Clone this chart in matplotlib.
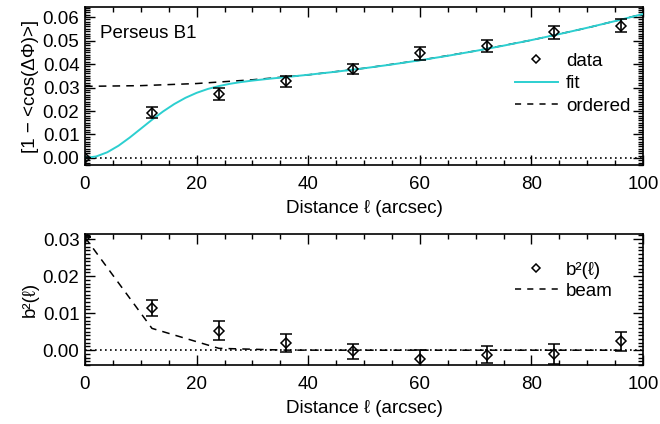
import matplotlib
matplotlib.use("Agg")
import matplotlib.pyplot as plt
from matplotlib.ticker import MultipleLocator, FormatStrFormatter
from matplotlib.lines import Line2D

# ---- data ----
dist = [0, 12, 24, 36, 48, 60, 72, 84, 96]
disp = [0.0000, 0.0193, 0.0271, 0.0326, 0.0379, 0.0445, 0.0478, 0.0535, 0.0563]
disp_err = [0.0000, 0.0022, 0.0026, 0.0024, 0.0022, 0.0026, 0.0025, 0.0028, 0.0028]

fit_x = [0, 2, 4, 6, 8, 10, 12, 14, 16, 18, 20, 22, 24, 26, 28, 30, 33, 36,
         40, 45, 50, 55, 60, 65, 70, 75, 80, 85, 90, 95, 100]
fit_y = [0.0, 0.00063, 0.00243, 0.0052, 0.00866, 0.01245, 0.01626, 0.01982,
         0.02297, 0.02561, 0.02773, 0.02938, 0.03063, 0.0316, 0.03234, 0.03295,
         0.03373, 0.03445, 0.03543, 0.03674, 0.0382, 0.03982, 0.04159, 0.04351,
         0.04559, 0.04783, 0.05021, 0.05275, 0.05545, 0.0583, 0.0613]

ord_x = [0, 10, 20, 30, 40, 50, 60, 70, 80, 90, 100]
ord_y = [0.0305, 0.0308, 0.0317, 0.0333, 0.0354, 0.0382, 0.0416, 0.0456,
         0.0502, 0.0554, 0.0613]

b2 = [0.0305, 0.0114, 0.0053, 0.0019, -0.0003, -0.0025, -0.0012, -0.0010, 0.0024]
b2_err = [0.0000, 0.0022, 0.0026, 0.0025, 0.0020, 0.0025, 0.0023, 0.0028, 0.0026]

beam_x = [0, 12, 24, 36, 48, 60, 72, 84, 96]
beam_y = [0.0305, 0.0059, 0.0005, 0.00002, 0.0, 0.0, 0.0, 0.0, 0.0]

plt.rcParams['font.family'] = ['Liberation Sans', 'DejaVu Sans']
plt.rcParams['font.size'] = 13

W, H = 660, 424
fig = plt.figure(figsize=(6.6, 4.24), dpi=100)
ax1 = fig.add_axes([85 / W, 1 - 165 / H, 558 / W, 158 / H])
ax2 = fig.add_axes([85 / W, 1 - 365 / H, 558 / W, 131 / H])

FS = 13.5

def style(ax):
    ax.set_xlim(0, 100)
    ax.xaxis.set_major_locator(MultipleLocator(20))
    ax.xaxis.set_minor_locator(MultipleLocator(5))
    ax.yaxis.set_minor_locator(MultipleLocator(0.001))
    ax.yaxis.set_major_locator(MultipleLocator(0.01))
    ax.yaxis.set_major_formatter(FormatStrFormatter('%.2f'))
    ax.tick_params(which='both', direction='in', top=True, right=True,
                   labelsize=FS, colors='black', width=1.0)
    ax.tick_params(which='major', length=7)
    ax.tick_params(axis='y', which='major', pad=4)
    ax.tick_params(axis='x', which='major', pad=8)
    ax.tick_params(which='minor', length=3.5)
    for s in ax.spines.values():
        s.set_linewidth(1.2)
    ax.set_xlabel('Distance ℓ (arcsec)', fontsize=FS, labelpad=5)

# ---- top panel ----
style(ax1)
ax1.set_ylim(-0.003, 0.0643)
ax1.plot([0, 100], [0, 0], ls=(0, (1, 2)), color='black', lw=1.2)
ax1.plot(ord_x, ord_y, ls=(0, (5, 4)), color='black', lw=1.1, zorder=2)
ax1.plot(fit_x, fit_y, color='#2ccfd0', lw=1.4, zorder=3)
ax1.errorbar(dist, disp, yerr=disp_err, fmt='D', ms=5, mfc='none', mec='black',
             mew=1.1, ecolor='black', elinewidth=1.2, capsize=4, capthick=1.2, zorder=4)
ax1.text(0.027, 0.835, 'Perseus B1', transform=ax1.transAxes, fontsize=FS, va='center')
ax1.set_ylabel('[1 − <cos(ΔΦ)>]', fontsize=FS, labelpad=3)
h1 = [Line2D([], [], ls='none', marker='D', ms=4, mfc='none', mec='black', mew=1.1),
      Line2D([], [], color='#2ccfd0', lw=1.4),
      Line2D([], [], color='black', ls=(0, (4, 4)), lw=1.1)]
ax1.legend(h1, ['data', 'fit', 'ordered'], loc='upper left',
           bbox_to_anchor=(0.77, 0.71), frameon=False, fontsize=FS,
           handlelength=2.3, handletextpad=0.45, labelspacing=0.28,
           borderpad=0, borderaxespad=0)

# ---- bottom panel ----
style(ax2)
ax2.set_ylim(-0.004, 0.0314)
ax2.plot([0, 100], [0, 0], ls=(0, (1, 2)), color='black', lw=1.2)
ax2.plot(beam_x, beam_y, ls=(0, (5, 4)), color='black', lw=1.1, zorder=2)
ax2.errorbar(dist, b2, yerr=b2_err, fmt='D', ms=5, mfc='none', mec='black',
             mew=1.1, ecolor='black', elinewidth=1.2, capsize=4, capthick=1.2, zorder=4)
ax2.set_ylabel('b²(ℓ)', fontsize=FS, labelpad=3)
h2 = [Line2D([], [], ls='none', marker='D', ms=4, mfc='none', mec='black', mew=1.1),
      Line2D([], [], color='black', ls=(0, (4, 4)), lw=1.1)]
ax2.legend(h2, ['b²(ℓ)', 'beam'], loc='upper left',
           bbox_to_anchor=(0.77, 0.79), frameon=False, fontsize=FS,
           handlelength=2.3, handletextpad=0.45, labelspacing=0.2,
           borderpad=0, borderaxespad=0)

fig.savefig('out.png', dpi=100)
